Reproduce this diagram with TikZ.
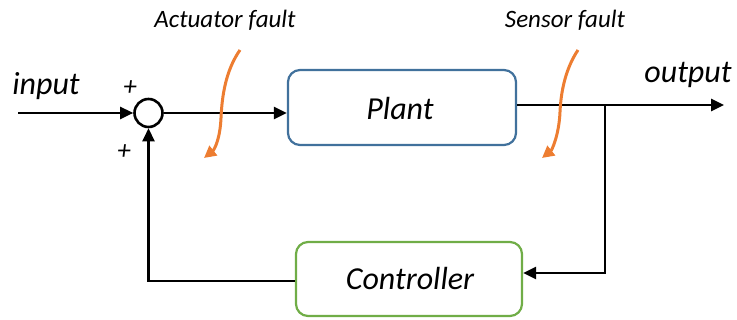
\documentclass[tikz,border=0pt]{standalone}
\usepackage{fontspec}
\setmainfont{Carlito}
\usetikzlibrary{arrows.meta}
\definecolor{plantblue}{HTML}{41719C}
\definecolor{ctrlgreen}{HTML}{70AD47}
\definecolor{faultorange}{HTML}{ED7D31}
\begin{document}
\begin{tikzpicture}[x=1pt,y=-1pt,
  sig/.style={line width=2.6pt,black},
  sigarrow/.style={sig,-{Triangle[length=13pt,width=12pt]}},
  blk/.style={draw,line width=2.2pt,rounded corners=12pt,fill=white},
  lbl/.style={font=\fontsize{32}{36}\selectfont\itshape},
  flbl/.style={font=\fontsize{25}{30}\selectfont\itshape},
  pm/.style={font=\fontsize{27}{30}\selectfont\itshape},
  fault/.style={draw=faultorange,line width=3pt,-{Triangle[length=12pt,width=12pt]}}
]
\useasboundingbox (0,0) rectangle (737,320);
\node[draw,circle,line width=2.6pt,minimum size=28pt,inner sep=0pt] (sum) at (148.5,113) {};
\node[blk,draw=plantblue,minimum width=228pt,minimum height=75pt] (plant) at (402,107.5) {};
\node[lbl] (plantt) at (400,109) {Plant};
\node[blk,draw=ctrlgreen,minimum width=226pt,minimum height=74pt] (ctrl) at (409,279) {};
\node[lbl] (ctrlt) at (410,279) {Controller};
\coordinate (in) at (18,113);
\coordinate (out) at (724,105);
\coordinate (br) at (605,105);
\node[lbl] (inl) at (46,86) {input};
\node[lbl] (outl) at (688,75) {output};
\node[pm] (p1) at (130,88) {+};
\node[pm] (p2) at (124,152) {+};
\node[flbl] (af) at (225,20) {Actuator fault};
\node[flbl] (sf) at (565,20) {Sensor fault};
\draw[sigarrow] (in) -- (sum.west);
\draw[sigarrow] (sum.east) -- (sum.east -| plant.west);
\draw[sigarrow] (out -| plant.east) -- (out);
\draw[sigarrow] (br) |- ([yshift=6pt]ctrl.east);
\draw[sigarrow] ([yshift=-2pt]ctrl.west) -| (sum.south);
\draw[fault] (240,50) .. controls (226,70) and (222,95) .. (221,118) .. controls (220,140) and (214,150) .. (204,158);
\draw[fault] (578,50) .. controls (566,68) and (561,90) .. (560,112) .. controls (559,135) and (552,150) .. (542,158);
\end{tikzpicture}
\end{document}
